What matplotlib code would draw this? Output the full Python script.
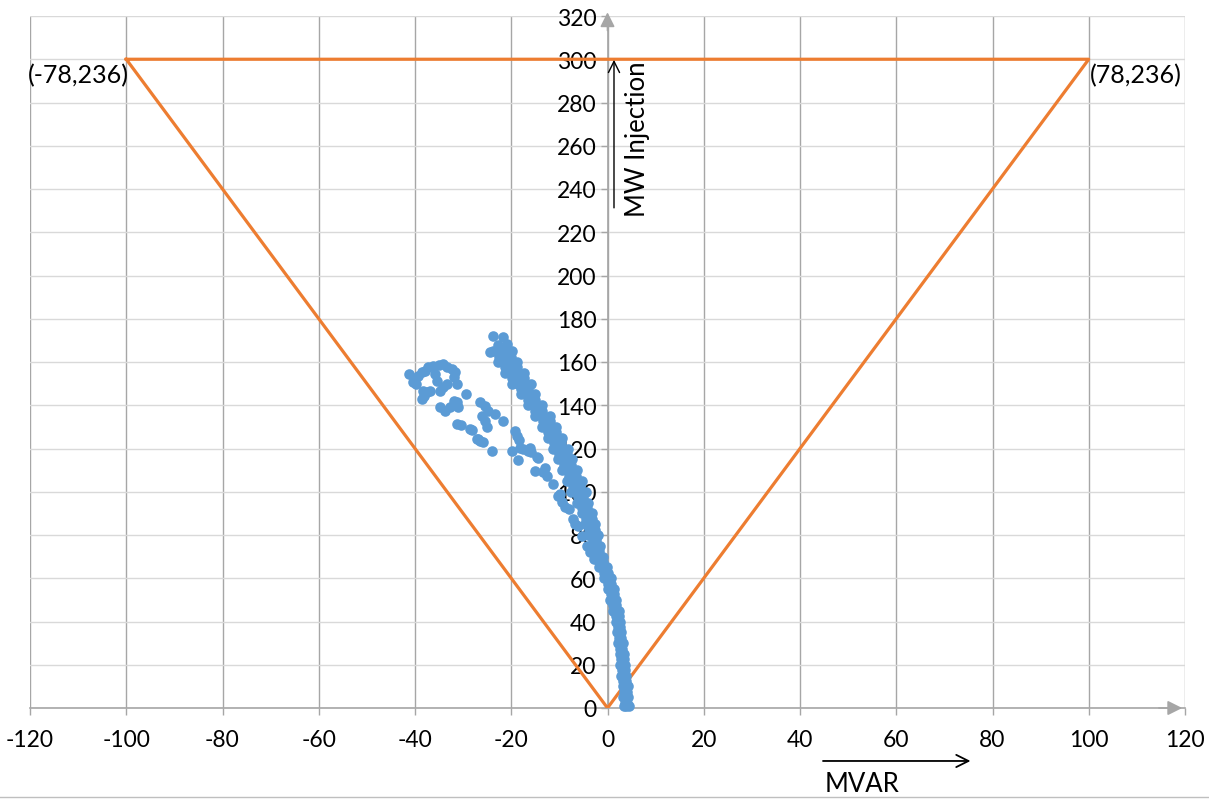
import matplotlib.pyplot as plt
from matplotlib.lines import Line2D

# operating limit triangle (MVAR, MW)
tri_x = [-100, 100, 0, -100]
tri_y = [300, 300, 0, 300]

# main band of measured points: one row of MVAR values per MW level
band_levels = [1, 2.5, 5, 7.5, 10, 12.5, 15, 17.5, 20, 22.5, 25, 27.5, 30, 32.5,
               35, 37.5, 40, 42.5, 45, 47.5, 50, 52.5, 55, 57.5, 60, 62.5, 65,
               67.5, 70, 72.5, 75, 77.5, 80, 82.5, 85, 87.5, 90, 92.5, 95, 97.5,
               100, 102.5, 105, 107.5, 110, 112.5, 115, 117.5, 120, 122.5, 125,
               127.5, 130, 132.5, 135, 137.5, 140, 142.5, 145, 147.5, 150, 152.5,
               155, 157.5, 160, 162.5, 165]
band_rows = [
    [3.4, 3.9, 4.4], [3.6, 4.1], [3.3, 3.8, 4.3], [3.5, 4.0], [3.2, 3.7, 4.2],
    [3.3, 3.8], [2.9, 3.4, 3.9], [3.1, 3.6], [2.7, 3.2, 3.7], [2.9, 3.4],
    [2.5, 3.0, 3.5], [2.6, 3.1], [2.2, 2.7, 3.2], [2.3, 2.8], [1.9, 2.4, 2.9],
    [2.1, 2.6], [1.7, 2.2, 2.7], [1.7, 2.3], [1.1, 1.7, 2.3], [1.2, 1.8],
    [0.6, 1.2, 1.8], [0.7, 1.3], [0.1, 0.7, 1.3], [0.1, 0.7],
    [-0.8, 0.0, 0.8], [-0.8, 0.0], [-1.7, -0.9, -0.1], [-1.7, -0.9],
    [-2.5, -1.7, -0.9], [-2.5, -1.7], [-3.2, -2.4, -1.6], [-3.1, -2.3],
    [-4.1, -3.0, -1.9], [-3.8, -2.7], [-4.7, -3.6, -2.5], [-4.4, -3.3],
    [-5.4, -4.3, -3.2], [-5.3, -4.2], [-6.3, -5.2, -4.1], [-6.2, -5.1],
    [-7.5, -6.0, -4.5], [-7.2, -5.7], [-8.4, -6.9, -5.4], [-8.1, -6.6],
    [-9.4, -7.9, -6.4], [-9.1, -7.6], [-10.3, -8.8, -7.3], [-10.0, -8.5],
    [-11.3, -9.8, -8.3], [-11.1, -9.6], [-12.4, -10.9, -9.4], [-12.3, -10.8],
    [-13.6, -12.1, -10.6], [-13.5, -12.0], [-15.0, -13.5, -12.0], [-15.1, -13.6],
    [-16.6, -15.1, -13.6], [-16.6, -15.1], [-18.0, -16.5, -15.0], [-18.0, -16.5],
    [-19.8, -18.5, -17.3, -16.0], [-19.9, -18.6, -17.4],
    [-21.3, -20.0, -18.7, -17.4], [-21.3, -20.1, -18.8],
    [-22.7, -21.4, -20.2, -18.9], [-22.6, -21.3, -20.0],
    [-23.7, -22.4, -21.2, -19.9],
]

# stray points (top of band, loop on the left, trail back to the band)
loop_x = [-23.7, -21.8, -24.4, -22.8, -20.8,
          -41.2, -40.4, -39.8, -39.3, -38.6, -37.9, -37.2, -36.2, -35.0, -34.2,
          -33.4, -32.4, -31.7, -32.0, -35.8, -35.5, -38.3, -37.6, -38.6, -38.1,
          -36.9, -34.8, -34.1, -33.4, -31.2, -29.4, -34.8, -33.8, -32.7, -32.0,
          -31.3, -31.0, -31.2, -30.5, -28.6, -27.0, -26.5, -23.9, -26.5, -25.5,
          -24.8, -26.1, -25.5, -25.0, -23.4, -21.7, -28.2, -27.2, -25.9, -19.2,
          -18.9, -18.3, -19.9, -18.2, -16.2, -15.8, -18.5, -14.4, -13.0, -17.5,
          -16.5, -15.1, -14.7, -13.3, -11.3, -10.2, -9.5, -8.8, -7.1, -6.8,
          -12.6, -9.9, -8.1, -6.1, -5.4, -4.3, -3.6, -2.9]
loop_y = [172.2, 171.7, 164.5, 168.0, 168.5,
          154.5, 150.6, 149.8, 153.7, 155.2, 156.0, 157.5, 158.3, 158.5, 159.0,
          157.5, 156.8, 155.2, 152.9, 154.5, 151.4, 146.7, 146.0, 142.9, 144.4,
          146.7, 146.7, 148.3, 149.8, 149.8, 145.2, 139.0, 137.5, 139.0, 142.1,
          141.4, 139.0, 131.3, 130.9, 129.0, 124.4, 123.6, 119.0, 141.4, 139.8,
          137.5, 135.2, 132.9, 129.8, 136.0, 132.6, 128.7, 124.4, 123.1, 128.2,
          125.9, 124.1, 119.0, 120.1, 120.1, 118.2, 114.8, 115.5, 111.0, 119.8,
          119.0, 109.7, 115.9, 109.0, 103.6, 98.2, 95.1, 92.8, 87.4, 85.1,
          107.4, 99.0, 92.0, 84.3, 79.7, 75.1, 72.0, 68.9]

x_ticks = list(range(-120, 121, 20))
y_ticks = list(range(0, 321, 20))


def make_chart():
    plt.rcParams['font.family'] = ['Lato', 'DejaVu Sans']
    plt.rcParams['axes.unicode_minus'] = False
    fig = plt.figure(figsize=(12.09, 8.04), dpi=100)
    ax = fig.add_axes([30 / 1209, 95 / 804, 1155 / 1209, 692 / 804])

    ax.set_xlim(-120, 120)
    ax.set_ylim(0, 320)
    ax.set_xticks(x_ticks)
    ax.set_yticks(y_ticks)

    # Excel-like gridlines: darker verticals, faint horizontals
    for x in x_ticks:
        ax.axvline(x, color='#A6A6A6', lw=1, zorder=0)
    for y in y_ticks:
        ax.axhline(y, color='#D9D9D9', lw=1, zorder=0)

    for side in ['top', 'right']:
        ax.spines[side].set_visible(False)
    ax.spines['left'].set_position(('data', 0))
    ax.spines['bottom'].set_position(('data', 0))
    for side in ['left', 'bottom']:
        ax.spines[side].set_color('#A6A6A6')
        ax.spines[side].set_linewidth(1.2)
        ax.spines[side].set_zorder(1)
    ax.tick_params(axis='both', colors='#A6A6A6', labelcolor='black',
                   labelsize=16.5, length=5, width=1)
    ax.tick_params(axis='x', pad=10)
    ax.tick_params(axis='y', pad=3)

    # axis arrowheads
    ax.annotate('', xy=(0, 323), xytext=(0, 312), annotation_clip=False,
                arrowprops=dict(arrowstyle='-|>', color='#A6A6A6',
                                mutation_scale=22, lw=1.2))
    ax.annotate('', xy=(120, 0), xytext=(114, 0), annotation_clip=False,
                arrowprops=dict(arrowstyle='-|>', color='#A6A6A6',
                                mutation_scale=22, lw=1.2))

    ax.plot(tri_x, tri_y, color='#ED7D31', lw=2.3, zorder=2)

    xs, ys = [], []
    for lvl, row in zip(band_levels, band_rows):
        xs += row
        ys += [lvl] * len(row)
    xs += loop_x
    ys += loop_y
    ax.scatter(xs, ys, s=58, color='#5B9BD5', lw=0, zorder=3, clip_on=False)

    ax.text(-99.4, 293, '(-78,236)', ha='right', va='center', fontsize=18)
    ax.text(100.3, 293, '(78,236)', ha='left', va='center', fontsize=18)
    ax.text(6.3, 263.6, 'MW Injection', rotation=90, ha='center', va='center',
            fontsize=18.5)
    ax.annotate('', xy=(1.35, 301), xytext=(1.35, 230),
                arrowprops=dict(arrowstyle='->', color='black', lw=1,
                                mutation_scale=20))
    ax.annotate('', xy=(76, -24.5), xytext=(44.2, -24.5), annotation_clip=False,
                arrowprops=dict(arrowstyle='->', color='black', lw=1.3,
                                mutation_scale=22))
    ax.text(52.9, -35.1, 'MVAR', ha='center', va='center', fontsize=18.5,
            clip_on=False)

    fig.add_artist(Line2D([0, 1], [6 / 804, 6 / 804], color='#BFBFBF', lw=1))

    fig.savefig('out.png', dpi=100)


if __name__ == '__main__':
    make_chart()
